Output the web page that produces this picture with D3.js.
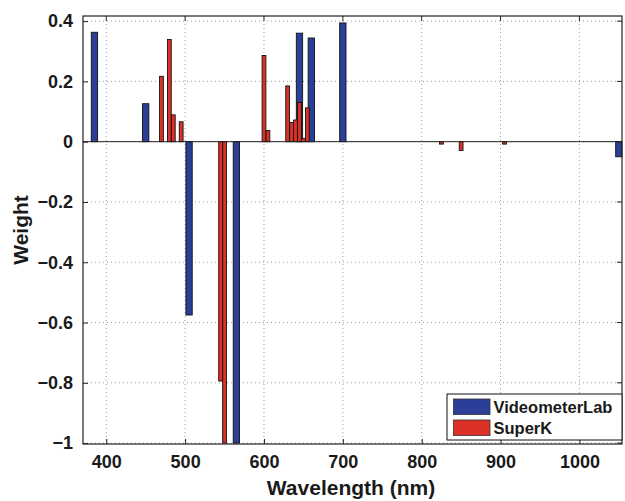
<!DOCTYPE html>
<html>
<head>
<meta charset="utf-8">
<script src="https://cdn.jsdelivr.net/npm/d3@7"></script>
<style>
  body { margin: 0; background: #fff; }
  svg text { font-family: "Liberation Sans", Arial, Helvetica, sans-serif; font-weight: bold; fill: #1a1a1a; }
</style>
</head>
<body>
<div id="chart"></div>
<script>
const width = 625;
const height = 501;
const margin = { top: 16, right: 3, bottom: 57, left: 83 };

// VideometerLab bands
const videoWl = [385, 450, 505, 565, 645, 660, 700, 1050];
const videoW = [0.363, 0.126, -0.575, -1.0, 0.36, 0.344, 0.394, -0.05];

// SuperK bands
const superWl = [470, 480, 485, 495, 545, 550, 600, 605, 630, 635, 640, 645, 650, 655, 825, 850, 905];
const superW = [0.217, 0.339, 0.089, 0.066, -0.794, -1.0, 0.286, 0.037, 0.185, 0.064, 0.072, 0.13, 0.011, 0.112, -0.008, -0.029, -0.008];

const xTicks = [400, 500, 600, 700, 800, 900, 1000];
const yTicks = [0.4, 0.2, 0, -0.2, -0.4, -0.6, -0.8, -1];

const serie = [
  { ime: "VideometerLab", boja: "#2c3f98", sirina: 8, x: videoWl, y: videoW },
  { ime: "SuperK", boja: "#dd3026", sirina: 4.8, x: superWl, y: superW },
];

const svg = d3.select("#chart").append("svg")
  .attr("width", width)
  .attr("height", height);

const x = d3.scaleLinear().domain([370.5, 1054]).range([margin.left, width - margin.right]);
const y = d3.scaleLinear().domain([-1.003, 0.417]).range([height - margin.bottom, margin.top]);

// grid
svg.append("g").selectAll("line").data(xTicks).join("line")
  .attr("x1", d => x(d)).attr("x2", d => x(d))
  .attr("y1", y.range()[1]).attr("y2", y.range()[0])
  .attr("stroke", "#999").attr("stroke-dasharray", "1,3");
svg.append("g").selectAll("line").data(yTicks).join("line")
  .attr("y1", d => y(d)).attr("y2", d => y(d))
  .attr("x1", x.range()[0]).attr("x2", x.range()[1])
  .attr("stroke", "#999").attr("stroke-dasharray", "1,3");

// bars
serie.forEach(s => {
  const podaci = s.x.map((w, i) => ({ w, v: s.y[i] }));
  svg.append("g").selectAll("rect").data(podaci).join("rect")
    .attr("x", d => x(d.w - s.sirina / 2))
    .attr("width", d => x(d.w + s.sirina / 2) - x(d.w - s.sirina / 2))
    .attr("y", d => Math.min(y(d.v), y(0)))
    .attr("height", d => Math.abs(y(d.v) - y(0)))
    .attr("fill", s.boja)
    .attr("stroke", "#111")
    .attr("stroke-width", 0.9);
});

// baseline
svg.append("line")
  .attr("x1", x.range()[0]).attr("x2", x.range()[1])
  .attr("y1", y(0)).attr("y2", y(0))
  .attr("stroke", "#222").attr("stroke-width", 1);

// axes (ticks pointing inward)
const fmt = d => (d === 0 ? "0" : String(d).replace("-", "\u2212"));
const xAxis = svg.append("g")
  .attr("transform", `translate(0,${height - margin.bottom})`)
  .call(d3.axisBottom(x).tickValues(xTicks).tickSize(-5).tickPadding(11).tickFormat(d3.format("d")));
const yAxis = svg.append("g")
  .attr("transform", `translate(${margin.left},0)`)
  .call(d3.axisLeft(y).tickValues(yTicks).tickSize(-5).tickPadding(10).tickFormat(fmt));
[xAxis, yAxis].forEach(a => {
  a.select(".domain").remove();
  a.selectAll("line").attr("stroke", "#222");
  a.selectAll("text").attr("font-size", 18).attr("fill", "#1a1a1a");
});

// top/right ticks
svg.append("g").selectAll("line").data(xTicks).join("line")
  .attr("x1", d => x(d)).attr("x2", d => x(d))
  .attr("y1", margin.top).attr("y2", margin.top + 5).attr("stroke", "#222");
svg.append("g").selectAll("line").data(yTicks).join("line")
  .attr("y1", d => y(d)).attr("y2", d => y(d))
  .attr("x1", width - margin.right).attr("x2", width - margin.right - 5).attr("stroke", "#222");

// box
svg.append("rect")
  .attr("x", margin.left).attr("y", margin.top)
  .attr("width", width - margin.left - margin.right)
  .attr("height", height - margin.top - margin.bottom)
  .attr("fill", "none").attr("stroke", "#222").attr("stroke-width", 1.2);

// labels
svg.append("text")
  .attr("x", 351).attr("y", 495)
  .attr("text-anchor", "middle").attr("font-size", 21)
  .text("Wavelength (nm)");
svg.append("text")
  .attr("transform", `translate(28,${(margin.top + height - margin.bottom) / 2}) rotate(-90)`)
  .attr("text-anchor", "middle").attr("font-size", 21)
  .text("Weight");

// legend
const leg = svg.append("g").attr("transform", "translate(447,394)");
leg.append("rect").attr("width", 175).attr("height", 46)
  .attr("fill", "#fff").attr("stroke", "#111").attr("stroke-width", 1);
serie.forEach((s, i) => {
  leg.append("rect")
    .attr("x", 6.5).attr("y", 5 + i * 21).attr("width", 36.5).attr("height", 15.5)
    .attr("fill", s.boja).attr("stroke", "#333").attr("stroke-width", 0.8);
  leg.append("text")
    .attr("x", 46.5).attr("y", 19 + i * 21)
    .attr("font-size", 16.5)
    .text(s.ime);
});
</script>
</body>
</html>
